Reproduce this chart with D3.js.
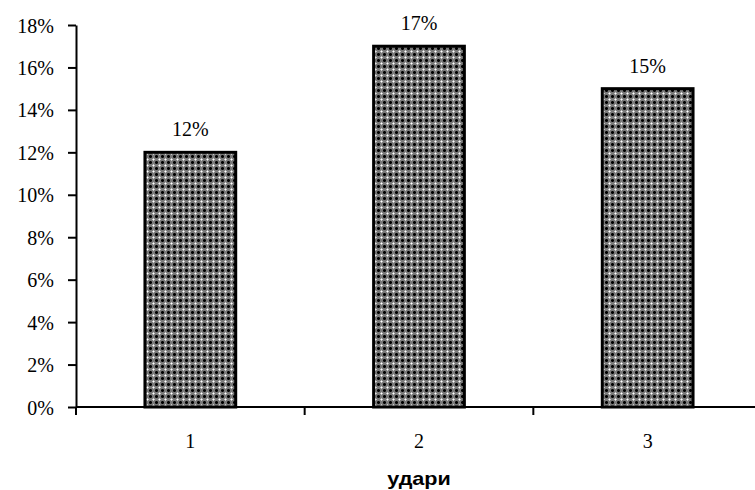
<!DOCTYPE html>
<html lang="mk">
<head>
<meta charset="UTF-8">
<title>удари</title>
<script src="https://d3js.org/d3.v7.min.js"></script>
<style>
    body { margin: 0; background: #fff; }
    svg text { fill: #000; }
    .tick text { font-family: 'Liberation Serif', 'Times New Roman', serif; font-size: 20px; }
</style>
</head>
<body>
<div id="chart"></div>
<script>
    // data
    const categories = ['1', '2', '3'];
    const values = [0.12, 0.17, 0.15];
    const yTicks = [0, 0.02, 0.04, 0.06, 0.08, 0.10, 0.12, 0.14, 0.16, 0.18];
    const xTitle = 'удари';

    const width = 755, height = 490;
    const margin = { top: 25, right: -7, bottom: 83, left: 76 };
    const serif = "'Liberation Serif', 'Times New Roman', serif";

    const svg = d3.select('#chart').append('svg')
        .attr('width', width)
        .attr('height', height);

    // checkered fill, 6px tile: black crosses, light dots between
    const defs = svg.append('defs');
    const pat = defs.append('pattern')
        .attr('id', 'checker')
        .attr('patternUnits', 'userSpaceOnUse')
        .attr('width', 6)
        .attr('height', 6);
    pat.append('rect').attr('width', 6).attr('height', 6).attr('fill', '#7a7a7a');
    const px = [
        [0, 0, '#000'], [1, 0, '#000'], [5, 0, '#000'], [0, 1, '#000'], [0, 5, '#000'],
        [1, 1, '#333'], [5, 5, '#333'], [1, 5, '#333'], [5, 1, '#333'],
        [3, 3, '#fff'],
        [2, 3, '#c8c8c8'], [4, 3, '#c8c8c8'], [3, 2, '#c8c8c8'], [3, 4, '#c8c8c8']
    ];
    px.forEach(p => {
        pat.append('rect').attr('x', p[0]).attr('y', p[1]).attr('width', 1).attr('height', 1).attr('fill', p[2]);
    });

    const x = d3.scaleBand()
        .domain(categories)
        .range([margin.left, width - margin.right])
        .paddingInner(0.59)
        .paddingOuter(0.295);

    const xOuter = d3.scaleBand()
        .domain(categories)
        .range([margin.left, width - margin.right]);

    const y = d3.scaleLinear()
        .domain([0, 0.18])
        .range([height - margin.bottom, margin.top]);

    // bars
    svg.append('g').selectAll('rect')
        .data(values)
        .join('rect')
        .attr('x', (d, i) => x(categories[i]) + 1.5)
        .attr('y', d => y(d))
        .attr('width', x.bandwidth() - 3)
        .attr('height', d => y(0) - y(d))
        .attr('fill', 'url(#checker)')
        .attr('stroke', '#000')
        .attr('stroke-width', 3);

    // value labels
    svg.append('g').selectAll('text')
        .data(values)
        .join('text')
        .attr('x', (d, i) => x(categories[i]) + x.bandwidth() / 2)
        .attr('y', d => y(d) - 16)
        .attr('text-anchor', 'middle')
        .style('font-family', serif)
        .style('font-size', '20px')
        .text(d => Math.round(d * 100) + '%');

    // y axis
    const yAxis = svg.append('g')
        .attr('transform', `translate(${margin.left},0)`)
        .call(d3.axisLeft(y).tickValues(yTicks).tickFormat(d => Math.round(d * 100) + '%').tickSize(8).tickSizeOuter(0).tickPadding(14));
    yAxis.selectAll('line, path').attr('stroke', '#000').attr('stroke-width', 2);
    yAxis.selectAll('text').attr('dy', '0.35em');

    // x axis: ticks between categories
    const xAxisG = svg.append('g')
        .attr('transform', `translate(0,${y(0)})`);
    xAxisG.append('line')
        .attr('x1', margin.left).attr('x2', width)
        .attr('stroke', '#000').attr('stroke-width', 2);
    xAxisG.selectAll('.xt')
        .data(categories)
        .join('line')
        .attr('class', 'xt')
        .attr('x1', d => xOuter(d)).attr('x2', d => xOuter(d))
        .attr('y1', 0).attr('y2', 8)
        .attr('stroke', '#000').attr('stroke-width', 2);
    xAxisG.selectAll('.xl')
        .data(categories)
        .join('text')
        .attr('class', 'xl')
        .attr('x', d => x(d) + x.bandwidth() / 2)
        .attr('y', 41)
        .attr('text-anchor', 'middle')
        .style('font-family', serif)
        .style('font-size', '20px')
        .text(d => d);

    // x title (slightly stretched like the reference)
    const tx = x('2') + x.bandwidth() / 2;
    svg.append('text')
        .attr('transform', `translate(${tx},485) scale(1.2,1)`)
        .attr('text-anchor', 'middle')
        .style('font-family', "'Liberation Sans', Arial, sans-serif")
        .style('font-size', '18px')
        .style('font-weight', 'bold')
        .text(xTitle);
</script>
</body>
</html>
